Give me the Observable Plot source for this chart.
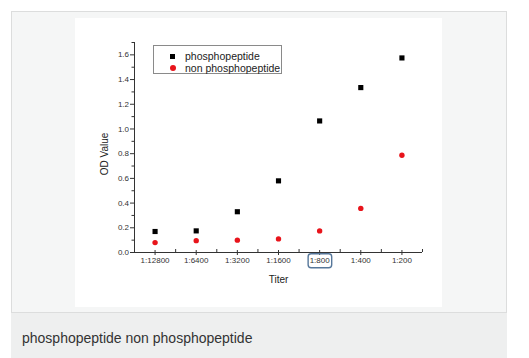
<!DOCTYPE html>
<html><head><meta charset="utf-8">
<script src="https://cdn.jsdelivr.net/npm/d3@7"></script>
<script src="https://cdn.jsdelivr.net/npm/@observablehq/plot@0.6"></script>
<style>
html,body{margin:0;padding:0;background:#fff;width:529px;height:358px;overflow:hidden;font-family:"Liberation Sans",Arial,sans-serif;}
#card{position:absolute;left:11px;top:11px;width:494px;height:300px;background:#f5f6f6;border:1px solid #dcdddd;}
#chart{position:absolute;left:75px;top:18px;width:367px;height:289px;background:#fff;}
#chart svg{display:block;}
#legend{position:absolute;left:78px;top:27px;width:127px;height:27px;border:1px solid #8a8a8a;background:#fff;font-size:10.5px;color:#222;}
#legend .row{position:absolute;left:0;height:12px;line-height:12px;white-space:nowrap;}
#legend .txt{position:absolute;left:31px;}
#legend .sq{position:absolute;left:16px;top:3.5px;width:5px;height:5px;background:#000;}
#legend .ci{position:absolute;left:15.5px;top:3px;width:6px;height:6px;border-radius:50%;background:#e8141b;}
#cap{position:absolute;left:11px;top:313px;width:496px;height:45px;background:#eeefef;}
#cap span{position:absolute;left:11px;top:17px;font-size:14px;line-height:16px;color:#333;}
</style>
</head><body>
<div id="card"></div>
<div id="chart"></div>
<div id="cap"><span id="captext"></span></div>
<script>
const categories = ["1:12800","1:6400","1:3200","1:1600","1:800","1:400","1:200"];
const phospho = [0.17,0.175,0.33,0.58,1.065,1.335,1.575];
const nonPhospho = [0.08,0.096,0.10,0.11,0.175,0.357,0.787];
const seriesNames = ["phosphopeptide","non phosphopeptide"];
const yTicks = [0,0.2,0.4,0.6,0.8,1.0,1.2,1.4,1.6];
const yMinor = [0.1,0.3,0.5,0.7,0.9,1.1,1.3,1.5,1.7];
const xMinor = [0.5,1.5,2.5,3.5,4.5,5.5,6.5];
const xLabel = "Titer";
const yLabel = "OD Value";

const idx = d3.range(categories.length);
const rowsA = idx.map(i => ({i, v: phospho[i]}));
const rowsB = idx.map(i => ({i, v: nonPhospho[i]}));
const axisColor = "#333";

const chart = Plot.plot({
  width: 367, height: 289,
  marginLeft: 59, marginRight: 20, marginTop: 24, marginBottom: 55,
  style: {fontFamily: "'Liberation Sans', Arial, sans-serif", fontSize: "8px", color: "#333", background: "transparent", overflow: "visible"},
  x: {domain: [-0.5, 6.5]},
  y: {domain: [0, 1.7]},
  marks: [
    Plot.ruleY([0], {stroke: axisColor, strokeWidth: 1}),
    Plot.ruleX([-0.5], {stroke: axisColor, strokeWidth: 1}),
    Plot.axisX(idx, {tickSize: 3, tickPadding: 2, tickFormat: i => categories[i], label: null, stroke: axisColor, fill: "#333"}),
    Plot.axisX(idx, {tickSize: -2, text: null, label: null, stroke: axisColor}),
    Plot.axisX(xMinor, {tickSize: -3, text: null, label: null, stroke: axisColor}),
    Plot.axisY(yTicks, {tickSize: 4, tickPadding: 1.5, tickFormat: d3.format(".1f"), label: null, stroke: axisColor, fill: "#333"}),
    Plot.axisY(yMinor, {tickSize: 2.5, text: null, label: null, stroke: axisColor}),
    Plot.dot(rowsA, {x: "i", y: "v", symbol: "square", r: 2.9, fill: "#000", stroke: "none"}),
    Plot.dot(rowsB, {x: "i", y: "v", symbol: "circle", r: 2.7, fill: "#e8141b", stroke: "none"}),
    Plot.text([xLabel], {frameAnchor: "bottom", dy: 27, fontSize: 10, fill: "#222", lineAnchor: "middle"}),
    Plot.text([yLabel], {frameAnchor: "left", dx: -30, dy: 6.5, rotate: -90, fontSize: 10, fill: "#222", lineAnchor: "middle", textAnchor: "middle"})
  ]
});
const host = document.getElementById("chart");
host.appendChild(chart);

// legend
const lg = document.createElement("div");
lg.id = "legend";
seriesNames.forEach((name, k) => {
  const r = document.createElement("div");
  r.className = "row";
  r.style.top = (4 + k * 11.7) + "px";
  r.style.width = "100%";
  const m = document.createElement("span");
  m.className = k === 0 ? "sq" : "ci";
  const t = document.createElement("span");
  t.className = "txt";
  t.textContent = name;
  r.appendChild(m); r.appendChild(t);
  lg.appendChild(r);
});
host.appendChild(lg);

document.getElementById("captext").textContent = seriesNames.join(" ");

// highlight box around the 1:800 tick label
const svg = host.querySelector("svg");
const sb = svg.getBoundingClientRect();
svg.querySelectorAll("text").forEach(t => {
  if (t.textContent === categories[4]) {
    const b = t.getBoundingClientRect();
    const rect = document.createElementNS("http://www.w3.org/2000/svg", "rect");
    rect.setAttribute("x", b.left - sb.left - 1.5);
    rect.setAttribute("y", b.top - sb.top - 2.5);
    rect.setAttribute("width", b.width + 3);
    rect.setAttribute("height", b.height + 5);
    rect.setAttribute("rx", 3);
    rect.setAttribute("fill", "none");
    rect.setAttribute("stroke", "#56779a");
    rect.setAttribute("stroke-width", 1.4);
    svg.appendChild(rect);
  }
});
</script>
</body></html>
